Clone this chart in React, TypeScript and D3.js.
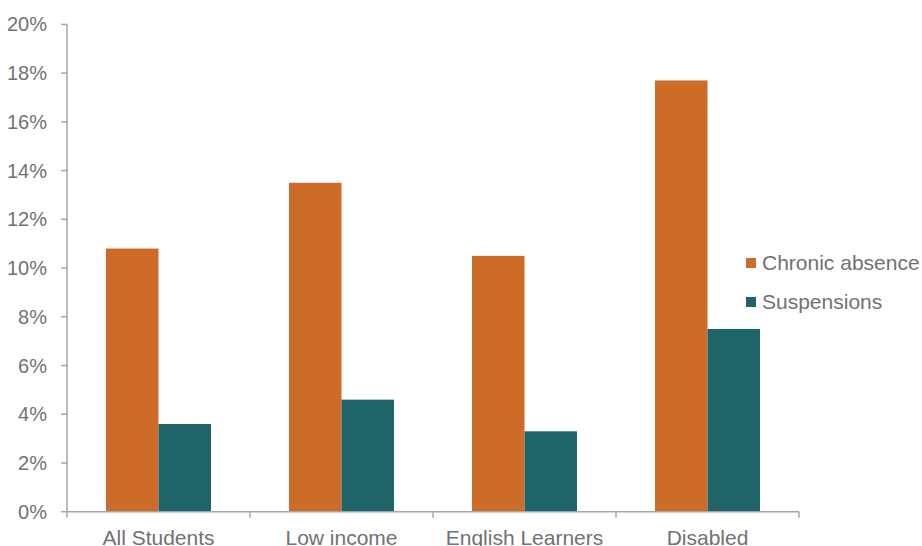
import React from "react";
import * as d3 from "d3";

const categories = ["All Students", "Low income", "English Learners", "Disabled"];
const seriesNames = ["Chronic absence", "Suspensions"];
const chronicAbsence = [0.108, 0.135, 0.105, 0.177];
const suspensions = [0.036, 0.046, 0.033, 0.075];
const yTicks = [0, 0.02, 0.04, 0.06, 0.08, 0.1, 0.12, 0.14, 0.16, 0.18, 0.2];

const colors = ["#CD6B28", "#1F6469"];
const textColor = "#717173";
const axisColor = "#A6A6A6";

const W = 922;
const H = 546;
const left = 67;
const right = 799;
const top = 24.4;
const bottom = 511.7;

export default function App() {
  const x = d3.scaleBand<string>().domain(categories).range([left, right]).paddingInner(0).paddingOuter(0);
  const inner = d3
    .scaleBand<string>()
    .domain(seriesNames)
    .range([39, x.bandwidth() - 39]);
  const y = d3.scaleLinear().domain([0, 0.2]).range([bottom, top]);
  const values = [chronicAbsence, suspensions];
  const fmt = d3.format(".0%");
  const boundaries = [...categories.map((c) => x(c)!), right];

  return (
    <svg
      width={W}
      height={H}
      style={{ position: "absolute", left: 0, top: 0 }}
      fontFamily="'Liberation Sans', Arial, sans-serif"
    >
      <rect width={W} height={H} fill="#fff" />
      {seriesNames.map((s, si) =>
        categories.map((c, ci) => (
          <rect
            key={s + c}
            x={x(c)! + inner(s)!}
            width={inner.bandwidth()}
            y={y(values[si][ci])}
            height={bottom - y(values[si][ci])}
            fill={colors[si]}
          />
        ))
      )}
      {/* y axis */}
      <line x1={left} x2={left} y1={top} y2={bottom} stroke={axisColor} strokeWidth={1.5} />
      {yTicks.map((t) => (
        <g key={t}>
          <line x1={left - 6} x2={left} y1={y(t)} y2={y(t)} stroke={axisColor} strokeWidth={1.5} />
          <text x={47} y={y(t)} dy="0.35em" textAnchor="end" fontSize={20} fill={textColor}>
            {fmt(t)}
          </text>
        </g>
      ))}
      {/* x axis */}
      <line x1={left} x2={right} y1={bottom} y2={bottom} stroke={axisColor} strokeWidth={1.5} />
      {boundaries.map((b, i) => (
        <line key={i} x1={b} x2={b} y1={bottom} y2={bottom + 6} stroke={axisColor} strokeWidth={1.5} />
      ))}
      {categories.map((c) => (
        <text key={c} x={x(c)! + x.bandwidth() / 2} y={545} textAnchor="middle" fontSize={21} fill={textColor}>
          {c}
        </text>
      ))}
      {/* legend */}
      {seriesNames.map((s, i) => (
        <g key={s} transform={`translate(746, ${263 + i * 39})`}>
          <rect x={0} y={-5} width={10} height={10} fill={colors[i]} />
          <text x={16} y={0} dy="0.35em" fontSize={21} fill={textColor}>
            {s}
          </text>
        </g>
      ))}
    </svg>
  );
}
